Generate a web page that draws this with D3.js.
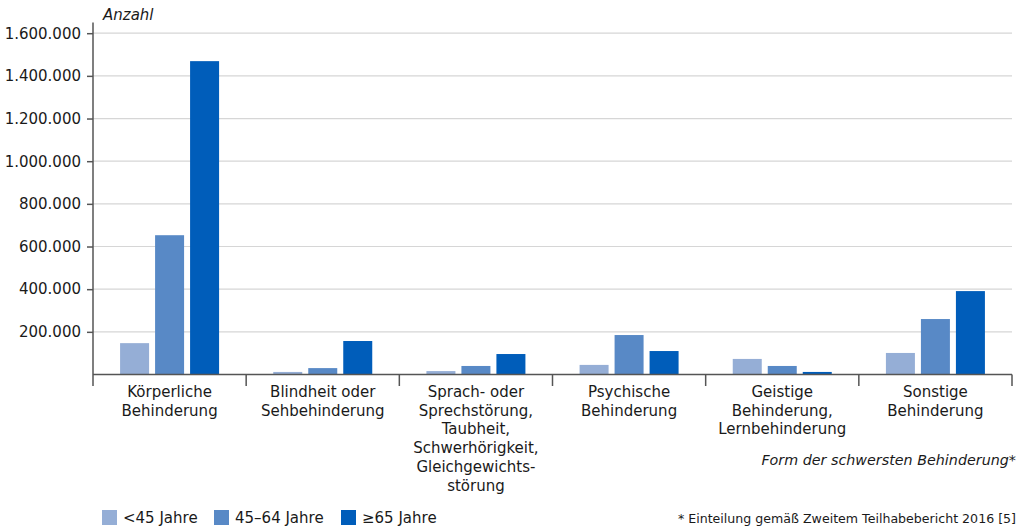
<!DOCTYPE html>
<html><head><meta charset="utf-8">
<script src="https://cdn.jsdelivr.net/npm/d3@7/dist/d3.min.js"></script>
<style>
body{margin:0;background:#fff;}
svg{display:block;font-family:"DejaVu Sans",sans-serif;}
text{fill:#1a1a1a;}
</style></head>
<body><svg id="c" width="1022" height="527"></svg>
<script>
const categories = [
  ["Körperliche","Behinderung"],
  ["Blindheit oder","Sehbehinderung"],
  ["Sprach- oder","Sprechstörung,","Taubheit,","Schwerhörigkeit,","Gleichgewichts-","störung"],
  ["Psychische","Behinderung"],
  ["Geistige","Behinderung,","Lernbehinderung"],
  ["Sonstige","Behinderung"]
];
const seriesNames = ["<45 Jahre","45–64 Jahre","≥65 Jahre"];
const under45 = [147000, 12000, 16000, 45000, 73000, 101000];
const age45to64 = [653000, 30000, 40000, 185000, 40000, 260000];
const over65 = [1469000, 157000, 96000, 110000, 12000, 391000];
const yTicks = [200000,400000,600000,800000,1000000,1200000,1400000,1600000];
const colors = ["#95aed6","#5889c6","#005dba"];

const series = [under45, age45to64, over65];
const svg = d3.select("#c");
const left = 93, right = 1012, y0 = 374.5, yTop = 33.2;
const y = d3.scaleLinear().domain([0,1600000]).range([y0,yTop]);
const x = d3.scaleBand().domain(d3.range(categories.length)).range([left,right]).padding(0);
const barW = 29, step = 35;
const inner = d3.scaleBand().domain(d3.range(3)).range([-(2*step+barW)/2, (2*step+barW)/2]).paddingInner(6/step).paddingOuter(0);

const loc = d3.formatLocale({decimal:",",thousands:".",grouping:[3],currency:["","€"]});
const fmt = loc.format(",.0f");

// grid
svg.append("g").selectAll("line").data(yTicks).join("line")
  .attr("x1",left).attr("x2",right).attr("y1",d=>y(d)).attr("y2",d=>y(d))
  .attr("stroke","#d6d6d6").attr("stroke-width",1.2);

// bars
const g = svg.append("g");
categories.forEach((c,i)=>{
  series.forEach((s,j)=>{
    const cx = x(i)+x.bandwidth()/2;
    g.append("rect").attr("x",cx+inner(j)).attr("width",inner.bandwidth())
      .attr("y",y(s[i])).attr("height",y0-y(s[i])).attr("fill",colors[j]);
  });
});

// y axis
const ya = d3.axisLeft(y).tickValues(yTicks).tickFormat(fmt).tickSize(6).tickPadding(6);
const yg = svg.append("g").attr("transform",`translate(${left},0)`).call(ya);
yg.select(".domain").remove();
yg.selectAll(".tick line").attr("stroke","#555").attr("stroke-width",1.5);
yg.selectAll(".tick text").attr("font-size",15).attr("font-family","DejaVu Sans").attr("fill","#1a1a1a");
svg.append("line").attr("x1",left).attr("x2",left).attr("y1",22.5).attr("y2",386)
  .attr("stroke","#555").attr("stroke-width",1.5);

// x axis
svg.append("line").attr("x1",left).attr("x2",right).attr("y1",y0).attr("y2",y0)
  .attr("stroke","#555").attr("stroke-width",1.5);
const bounds = d3.range(categories.length+1).map(i=> i<categories.length ? x(i) : right);
svg.append("g").selectAll("line").data(bounds.slice(1)).join("line")
  .attr("x1",d=>d).attr("x2",d=>d).attr("y1",y0).attr("y2",386)
  .attr("stroke","#555").attr("stroke-width",1.5);

// category labels
const lab = svg.append("g").attr("font-size",15).attr("text-anchor","middle");
categories.forEach((lines,i)=>{
  const t = lab.append("text").attr("x",x(i)+x.bandwidth()/2).attr("y",397);
  lines.forEach((l,k)=>t.append("tspan").attr("x",x(i)+x.bandwidth()/2).attr("dy",k?18.7:0).text(l));
});

// titles
svg.append("text").attr("x",103).attr("y",20).attr("font-size",15).attr("font-style","italic").text("Anzahl");
svg.append("text").attr("x",1016).attr("y",465).attr("font-size",14.3).attr("font-style","italic")
  .attr("text-anchor","end").text("Form der schwersten Behinderung*");
svg.append("text").attr("x",1016).attr("y",523).attr("font-size",12.6)
  .attr("text-anchor","end").text("* Einteilung gemäß Zweitem Teilhabebericht 2016 [5]");

// legend
const legX = [102,214,341];
const lg = svg.append("g");
seriesNames.forEach((n,j)=>{
  lg.append("rect").attr("x",legX[j]).attr("y",510).attr("width",15).attr("height",15).attr("fill",colors[j]);
  lg.append("text").attr("x",legX[j]+21).attr("y",523).attr("font-size",15).text(n);
});
</script></body></html>
